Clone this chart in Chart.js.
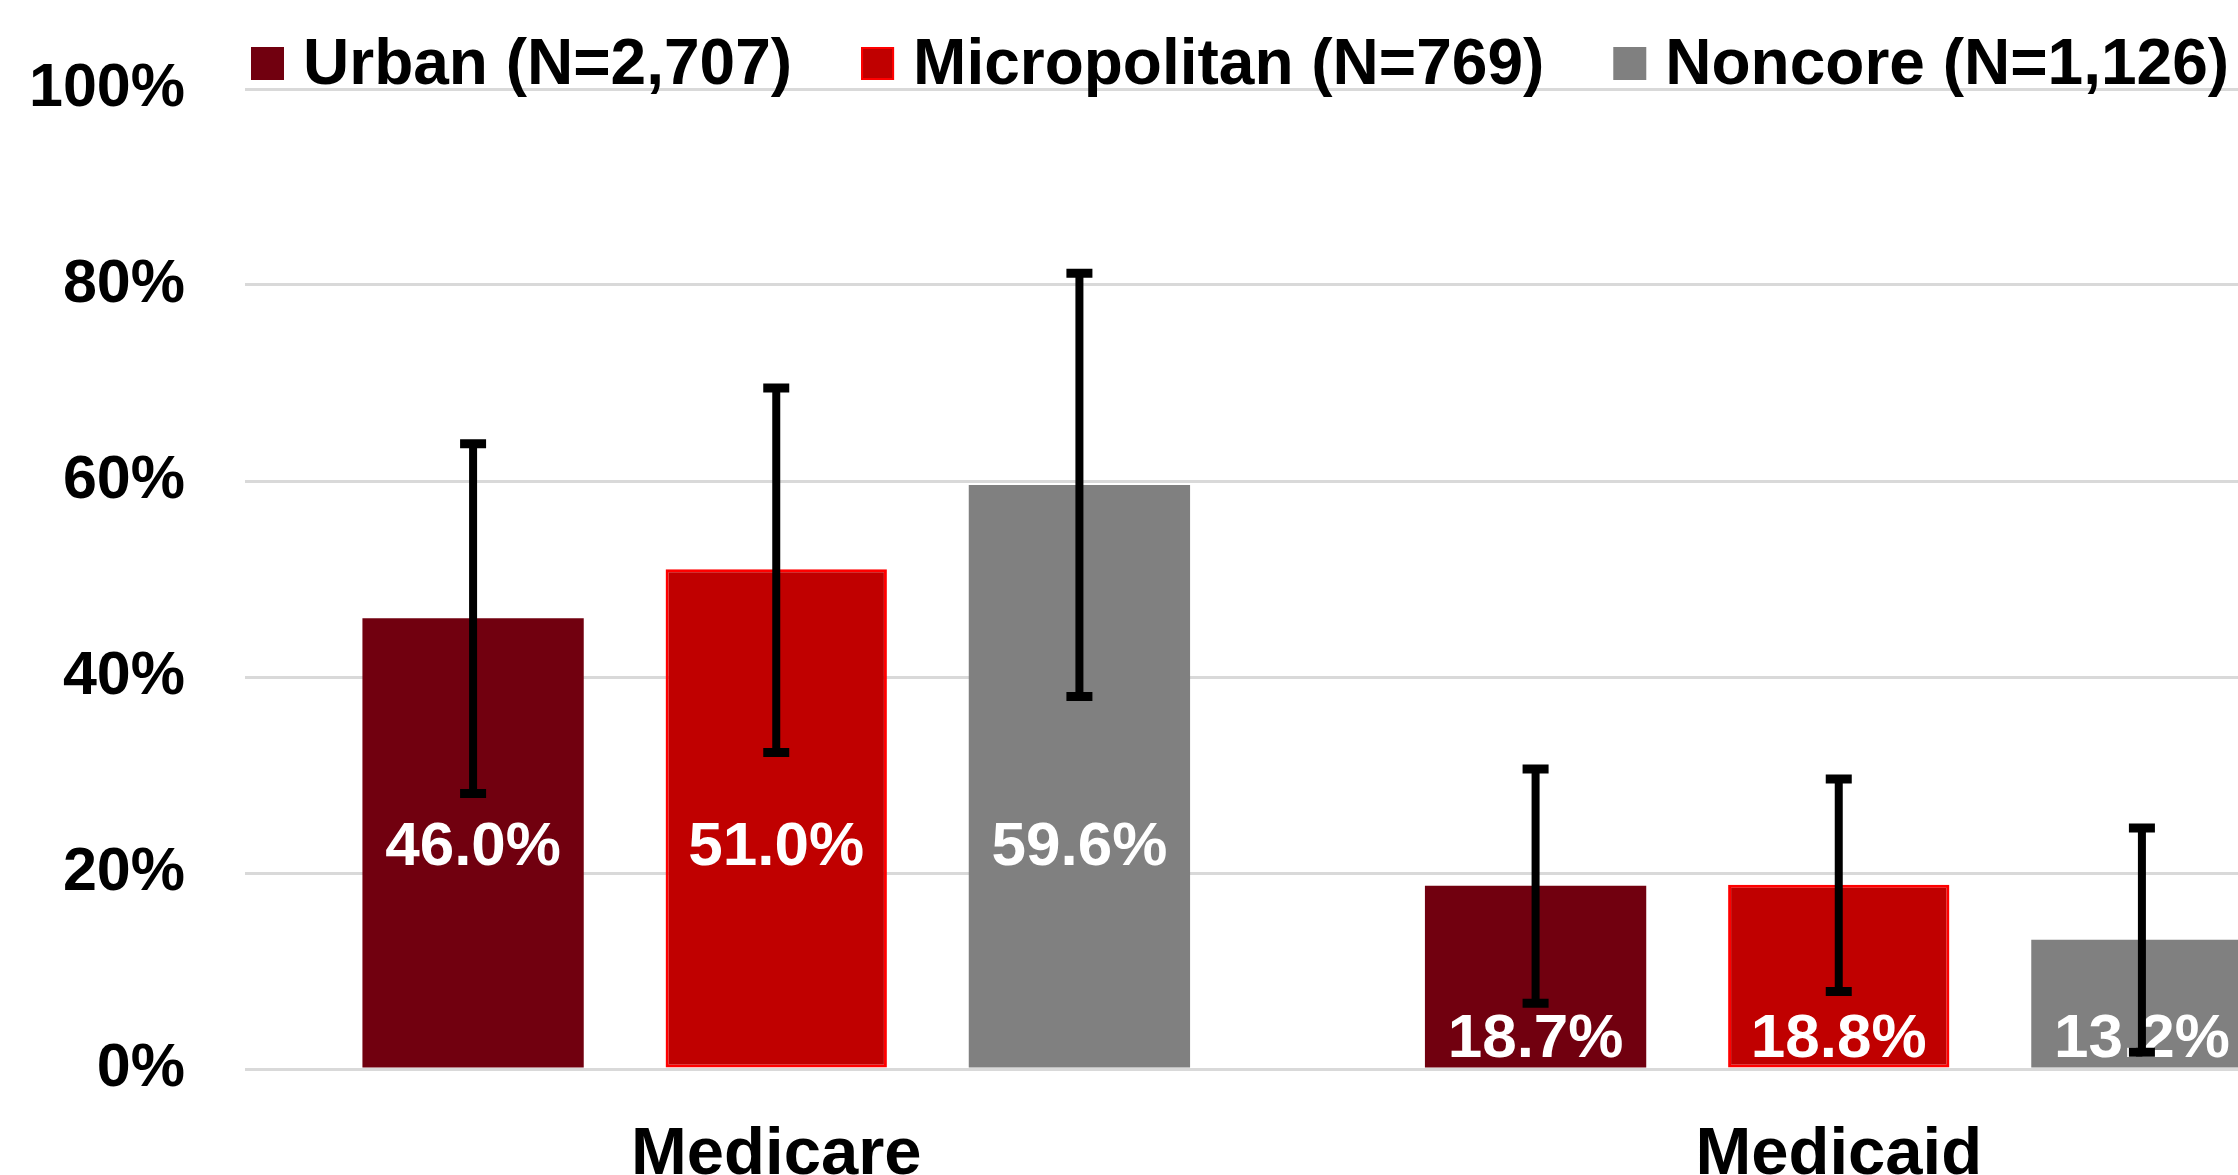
<!DOCTYPE html>
<html>
<head>
<meta charset="utf-8">
<script src="https://cdn.jsdelivr.net/npm/chart.js@4.4.0/dist/chart.umd.min.js"></script>
<style>
  html, body { margin: 0; padding: 0; background: #fff; overflow: hidden; }
  #wrap { position: relative; width: 2480px; height: 1175px; }
</style>
</head>
<body>
<div id="wrap"><canvas id="chart"></canvas></div>
<script>
// values (percent)
const categories = ['Medicare', 'Medicaid'];
const seriesNames = ['Urban (N=2,707)', 'Micropolitan (N=769)', 'Noncore (N=1,126)'];
const urban = [46.0, 18.7];
const micropolitan = [51.0, 18.8];
const noncore = [59.6, 13.2];
// error bar ends
const urbanLow = [28.1, 6.7];
const urbanHigh = [63.8, 30.6];
const microLow = [32.3, 7.9];
const microHigh = [69.5, 29.6];
const noncoreLow = [38.0, 1.7];
const noncoreHigh = [81.2, 24.6];
const yTicks = [0, 20, 40, 60, 80, 100];

const FONT = '"Liberation Sans", Arial, sans-serif';

// where the value labels sit inside the bars, per category (in axis units)
const labelAt = [22.6, 3.0];

const errorBars = {
  id: 'errorBars',
  afterDatasetsDraw(chart) {
    const { ctx, chartArea } = chart;
    const y = chart.scales.y;

    // value labels first, clipped to the plot
    ctx.save();
    ctx.beginPath();
    ctx.rect(chartArea.left, chartArea.top, chartArea.right - chartArea.left, chartArea.bottom - chartArea.top);
    ctx.clip();
    ctx.fillStyle = '#ffffff';
    ctx.font = 'bold 62px ' + FONT;
    ctx.textAlign = 'center';
    ctx.textBaseline = 'middle';
    chart.data.datasets.forEach((ds, di) => {
      chart.getDatasetMeta(di).data.forEach((bar, i) => {
        ctx.fillText(ds.data[i].toFixed(1) + '%', bar.x, y.getPixelForValue(labelAt[i]));
      });
    });
    ctx.restore();

    // then the whiskers on top
    ctx.save();
    ctx.strokeStyle = '#000000';
    ctx.lineCap = 'butt';
    chart.data.datasets.forEach((ds, di) => {
      chart.getDatasetMeta(di).data.forEach((bar, i) => {
        const top = y.getPixelForValue(ds.high[i]);
        const bot = y.getPixelForValue(ds.low[i]);
        ctx.lineWidth = 8;
        ctx.beginPath();
        ctx.moveTo(bar.x, top);
        ctx.lineTo(bar.x, bot);
        ctx.stroke();
        ctx.lineWidth = 9;
        ctx.beginPath();
        ctx.moveTo(bar.x - 13, top);
        ctx.lineTo(bar.x + 13, top);
        ctx.moveTo(bar.x - 13, bot);
        ctx.lineTo(bar.x + 13, bot);
        ctx.stroke();
      });
    });
    ctx.restore();
  }
};

const topLegend = {
  id: 'topLegend',
  afterDraw(chart) {
    const { ctx } = chart;
    let x = 251;
    ctx.save();
    ctx.font = 'bold 64px ' + FONT;
    ctx.textBaseline = 'alphabetic';
    ctx.textAlign = 'left';
    chart.data.datasets.forEach((ds) => {
      ctx.fillStyle = ds.backgroundColor;
      ctx.fillRect(x, 47, 33, 33);
      if (ds.borderWidth) {
        ctx.strokeStyle = ds.borderColor;
        ctx.lineWidth = 2;
        ctx.strokeRect(x + 1, 48, 31, 31);
      }
      x += 33 + 19;
      ctx.fillStyle = '#000000';
      ctx.fillText(ds.label, x, 84);
      x += ctx.measureText(ds.label).width + 69;
    });
    ctx.restore();
  }
};

new Chart(document.getElementById('chart'), {
  type: 'bar',
  data: {
    labels: categories,
    datasets: [
      { label: seriesNames[0], data: urban, low: urbanLow, high: urbanHigh, backgroundColor: '#71000f' },
      { label: seriesNames[1], data: micropolitan, low: microLow, high: microHigh, backgroundColor: '#c00000',
        borderColor: '#ff0000', borderWidth: 3, borderSkipped: false },
      { label: seriesNames[2], data: noncore, low: noncoreLow, high: noncoreHigh, backgroundColor: '#808080' }
    ]
  },
  options: {
    responsive: true,
    maintainAspectRatio: false,
    animation: false,
    events: [],
    categoryPercentage: 0.856,
    barPercentage: 0.73,
    layout: { padding: { left: 0, right: 110, top: 89, bottom: 0 } },
    plugins: {
      legend: { display: false },
      tooltip: { enabled: false }
    },
    scales: {
      x: {
        grid: { display: false },
        border: { display: false },
        ticks: { color: '#000', font: { family: FONT, size: 67, weight: 'bold' }, padding: 38 },
        afterFit: (s) => { s.height = 106; }
      },
      y: {
        min: 0,
        max: 100,
        afterBuildTicks: (s) => { s.ticks = yTicks.map(v => ({ value: v })); },
        grid: { color: '#d9d9d9', lineWidth: 3, drawTicks: false },
        border: { display: false },
        ticks: {
          color: '#000',
          padding: 60,
          font: { family: FONT, size: 61, weight: 'bold' },
          callback: (v) => v + '%'
        },
        afterFit: (s) => { s.width = 245; s.paddingTop = 0; s.paddingBottom = 0; }
      }
    }
  },
  plugins: [errorBars, topLegend]
});
</script>
</body>
</html>
